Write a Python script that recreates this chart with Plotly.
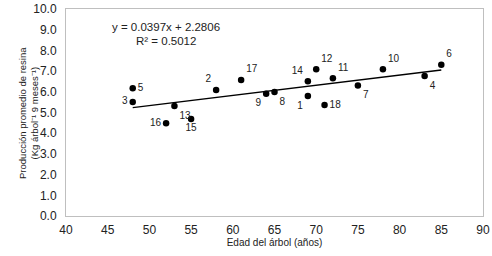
import numpy as np
import plotly.graph_objects as go

tree_ids = ["1","2","3","4","5","6","7","8","9","10","11","12","13","14","15","16","17","18"]
edad = [69, 58, 48, 83, 48, 85, 75, 65, 64, 78, 72, 70, 53, 69, 55, 52, 61, 71]
produccion = [5.80, 6.09, 5.51, 6.76, 6.17, 7.31, 6.31, 5.99, 5.91, 7.09, 6.65, 7.09, 5.31, 6.51, 4.69, 4.48, 6.57, 5.36]
label_pos = ["bottom left", "top left", "middle left", "bottom right", "middle right", "top right",
             "bottom right", "bottom right", "bottom left", "top right", "top right", "top right",
             "bottom right", "top left", "bottom center", "middle left", "top right", "middle right"]
x_ticks = [40, 45, 50, 55, 60, 65, 70, 75, 80, 85, 90]
y_ticks = [0, 1, 2, 3, 4, 5, 6, 7, 8, 9, 10]
equation_text = "y = 0.0397x + 2.2806"
r2_text = "R² = 0.5012"
x_title = "Edad del árbol (años)"
y_title = "Producción promedio de resina<br>(Kg árbol⁻¹ 9 meses⁻¹)"

slope, intercept = np.polyfit(edad, produccion, 1)
tx = [min(edad), max(edad)]
ty = [slope * v + intercept for v in tx]

font = "Liberation Sans, Arial, sans-serif"

fig = go.Figure()
fig.add_trace(go.Scatter(x=tx, y=ty, mode="lines", line=dict(color="black", width=1.5),
                         hoverinfo="skip", showlegend=False))
fig.add_trace(go.Scatter(x=edad, y=produccion, mode="markers+text", text=tree_ids,
                         textposition=label_pos,
                         textfont=dict(family=font, size=10, color="#222"),
                         marker=dict(color="black", size=6.5),
                         showlegend=False))

fig.add_annotation(x=0.24, y=0.913, xref="paper", yref="paper", text=equation_text,
                   xanchor="center", yanchor="middle",
                   showarrow=False, font=dict(family=font, size=11.5, color="#222"))
fig.add_annotation(x=0.24, y=0.845, xref="paper", yref="paper", text=r2_text,
                   xanchor="center", yanchor="middle",
                   showarrow=False, font=dict(family=font, size=11.5, color="#222"))
fig.add_annotation(x=-0.09, y=0.5, xref="paper", yref="paper", text=y_title,
                   textangle=-90, xanchor="center", yanchor="middle",
                   showarrow=False, font=dict(family=font, size=9.5, color="#222"))

fig.update_layout(
    width=492, height=256,
    margin=dict(l=66, r=9, t=9, b=40),
    paper_bgcolor="white", plot_bgcolor="white",
    font=dict(family=font, size=12, color="#222"),
)
fig.update_xaxes(range=[40, 90], tickvals=x_ticks, showgrid=False, zeroline=False,
                 showline=True, mirror=True, linecolor="#bfbfbf", linewidth=1,
                 ticks="", tickfont=dict(size=12), automargin=False, ticklabelstandoff=3,
                 ticklabeloverflow="allow",
                 title=dict(text=x_title, font=dict(size=10), standoff=2))
fig.update_yaxes(range=[0, 10], tickvals=y_ticks, tickformat=".1f", showgrid=False, zeroline=False,
                 showline=True, mirror=True, linecolor="#bfbfbf", linewidth=1,
                 ticks="", tickfont=dict(size=12), automargin=False, ticklabelstandoff=6,
                 ticklabeloverflow="allow")

# remove the browser's default 8px page margin so the figure sits at the window origin
fig.write_html("out.html", config={"displayModeBar": False},
               post_script="document.body.style.margin='0';")
